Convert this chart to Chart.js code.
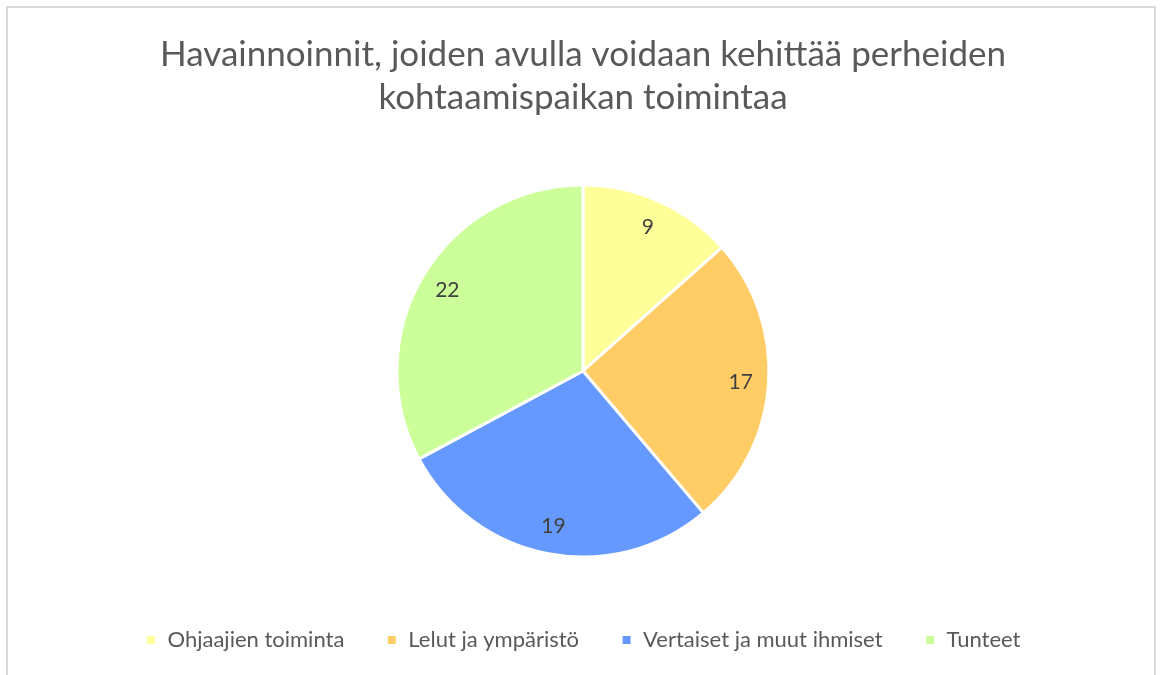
<!DOCTYPE html>
<html>
<head>
<meta charset="utf-8">
<script src="https://cdn.jsdelivr.net/npm/chart.js@4/dist/chart.umd.min.js"></script>
<style>
  body { margin: 0; background: #fff; }
  #frame {
    position: absolute; left: 6px; top: 6px; width: 1150px; height: 700px;
    border: 2px solid #d9d9d9; box-sizing: border-box;
  }
  #wrap { position: absolute; left: 0; top: 0; width: 1162px; height: 675px; }
</style>
</head>
<body>
<div id="frame"></div>
<div id="wrap"><canvas id="pie"></canvas></div>
<script>
// data
var categories = ['Ohjaajien toiminta', 'Lelut ja ympäristö', 'Vertaiset ja muut ihmiset', 'Tunteet'];
var counts = [9, 17, 19, 22];
var sliceColors = ['#FFFF99', '#FFCC66', '#6699FF', '#CCFF99'];
var titleLines = ['Havainnoinnit, joiden avulla voidaan kehittää perheiden', 'kohtaamispaikan toimintaa'];

// numbers inside the slices, placed along each arc's mid angle
var sliceLabels = {
    id: 'sliceLabels',
    afterDatasetsDraw: function (chart) {
        var ctx = chart.ctx;
        var meta = chart.getDatasetMeta(0);
        ctx.save();
        ctx.font = '21px Lato';
        ctx.fillStyle = '#404040';
        ctx.textAlign = 'center';
        ctx.textBaseline = 'middle';
        meta.data.forEach(function (arc, i) {
            var p = arc.getProps(['x', 'y', 'startAngle', 'endAngle', 'outerRadius'], true);
            var mid = (p.startAngle + p.endAngle) / 2;
            var r = p.outerRadius * 0.85;
            ctx.fillText(String(counts[i]), p.x + Math.cos(mid) * r, p.y + Math.sin(mid) * r);
        });
        ctx.restore();
    }
};

var chart = document.getElementById('pie').getContext('2d');

var pieChart = new Chart(chart, {
    type: 'pie',
    data: {
        labels: categories,
        datasets: [
            {
                data: counts,
                backgroundColor: sliceColors,
                borderColor: '#ffffff',
                borderWidth: 3,
                radius: 186
            }
        ]
    },
    options: {
        responsive: true,
        maintainAspectRatio: false,
        animation: false,
        layout: { padding: { left: 4, right: 0, top: 0, bottom: 14 } },
        plugins: {
            title: {
                display: true,
                text: titleLines,
                color: '#595959',
                font: { family: 'Lato', size: 35, weight: 'normal', lineHeight: 43 / 35 },
                padding: { top: 33, bottom: 36 }
            },
            legend: {
                position: 'bottom',
                labels: {
                    color: '#595959',
                    font: { family: 'Lato', size: 22 },
                    boxWidth: 11, // white slice border eats 1.5px each side
                    boxHeight: 11,
                    padding: 42
                }
            },
            tooltip: { enabled: false }
        }
    },
    plugins: [sliceLabels]
});
</script>
</body>
</html>
